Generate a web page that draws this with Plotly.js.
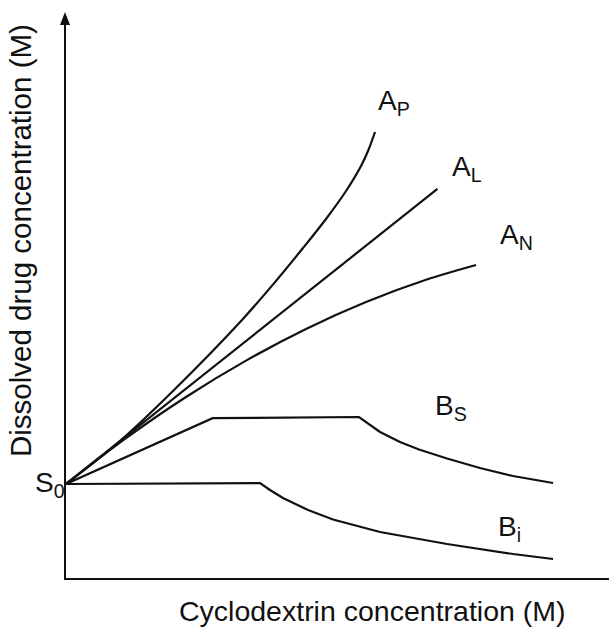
<!DOCTYPE html>
<html>
<head>
<meta charset="utf-8">
<script src="https://cdn.plot.ly/plotly-3.0.1.min.js"></script>
<style>html,body{margin:0;padding:0;background:#fff;}#chart{width:611px;height:628px;}</style>
</head>
<body>
<div id="chart"></div>
<script>
// Phase-solubility profile values (arbitrary units; x = cyclodextrin, y = dissolved drug)
const apX = [0, 9.94, 20.26, 32.41, 38.67, 43.65, 47.88, 51.57, 54.33, 55.62, 56.91];
const apY = [16.94, 24.69, 34.24, 46.49, 53.52, 59.46, 64.69, 69.73, 74.24, 76.94, 80.36];

const alX = [0, 68.4];
const alY = [16.94, 70.1];

const anX = [0, 11.05, 22.10, 33.15, 44.20, 55.25, 66.30, 75.51];
const anY = [16.94, 25.20, 32.62, 39.17, 44.88, 49.73, 53.73, 56.40];

const bsX = [0, 27.0, 53.96, 55.80, 57.83, 61.51, 65.01, 70.17, 76.24, 82.32, 89.69];
const bsY = [16.94, 28.8, 29.01, 27.75, 26.31, 24.50, 23.15, 21.53, 19.82, 18.38, 17.12];

const biX = [0, 35.73, 37.57, 39.96, 44.57, 49.17, 57.83, 70.17, 82.32, 89.69];
const biY = [16.94, 17.1, 15.86, 14.41, 12.25, 10.54, 8.29, 6.13, 4.32, 3.42];

const seriesLabels = ['A<sub>P</sub>', 'A<sub>L</sub>', 'A<sub>N</sub>', 'B<sub>S</sub>', 'B<sub>i</sub>'];
const originLabel = 'S<sub>0</sub>';
const xTitle = 'Cyclodextrin concentration (M)';
const yTitle = 'Dissolved drug concentration (M)';

const FONT = 'Liberation Sans, Arial, sans-serif';
const lineStyle = {color: '#111', width: 2.2};

function tr(x, y, shape) {
  return {x: x, y: y, type: 'scatter', mode: 'lines', line: Object.assign({shape: shape}, lineStyle), hoverinfo: 'skip', showlegend: false};
}

const data = [
  tr(apX, apY, 'spline'),
  tr(alX, alY, 'linear'),
  tr(anX, anY, 'spline'),
  tr(bsX, bsY, 'linear'),
  tr(biX, biY, 'linear')
];

// pixel -> paper helpers for label placement
const L = 66, T = 23, W = 543, H = 555;
const PX = px => (px - L) / W;
const PY = py => (T + H - py) / H;

function lab(text, px, py) {
  return {text: text, x: PX(px), y: PY(py), xref: 'paper', yref: 'paper', showarrow: false,
          xanchor: 'left', yanchor: 'middle', font: {family: FONT, size: 28, color: '#111'}};
}

const annotations = [
  lab(seriesLabels[0], 376, 103),
  lab(seriesLabels[1], 450, 168),
  lab(seriesLabels[2], 498, 237),
  lab(seriesLabels[3], 433, 407),
  lab(seriesLabels[4], 496, 528),
  lab(originLabel, 33, 484),
  {text: xTitle, xref: 'paper', yref: 'paper', x: PX(371.5), y: PY(611),
   xanchor: 'center', yanchor: 'middle', showarrow: false, font: {family: FONT, size: 28.5, color: '#111'}},
  {text: yTitle, xref: 'paper', yref: 'paper', x: PX(20), y: PY(241),
   xanchor: 'center', yanchor: 'middle', textangle: -90, showarrow: false, font: {family: FONT, size: 29.5, color: '#111'}}
];

const ax = {range: [0, 100], showline: true, linecolor: '#111', linewidth: 2, showgrid: false,
            zeroline: false, showticklabels: false, ticks: '', fixedrange: true};

const layout = {
  width: 611, height: 628,
  margin: {l: L, r: 611 - L - W, t: T, b: 628 - T - H, pad: 0},
  paper_bgcolor: '#fff', plot_bgcolor: '#fff',
  xaxis: Object.assign({}, ax),
  yaxis: Object.assign({}, ax),
  annotations: annotations,
  shapes: [{type: 'path', xref: 'paper', yref: 'paper',
            path: 'M ' + PX(65) + ' ' + PY(12) +
                  ' L ' + PX(60) + ' ' + PY(25) +
                  ' L ' + PX(70) + ' ' + PY(25) + ' Z',
            fillcolor: '#111', line: {width: 0}}],
  showlegend: false
};

Plotly.newPlot('chart', data, layout, {staticPlot: true, displayModeBar: false});
</script>
</body>
</html>
